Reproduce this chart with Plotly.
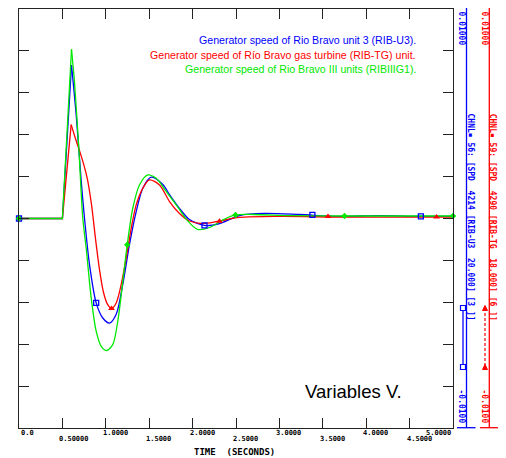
import plotly.graph_objects as go

# ---------------- data ----------------
blue_t = [0, 0.5, 0.605, 0.659, 0.717, 0.755, 0.812, 0.889, 0.965, 1.043, 1.120, 1.196,
          1.273, 1.350, 1.426, 1.523, 1.657, 1.734, 1.849, 1.964, 2.137, 2.31, 2.54,
          2.83, 3.23, 3.69, 4.15, 4.61, 5.0]
blue_v = [0, 0, 0.00732, 0.00494, 0.00176, 0.0, -0.00219, -0.00403, -0.00475, -0.00499,
          -0.00457, -0.00314, -0.00124, 0.00033, 0.00144, 0.00197, 0.00162, 0.00114,
          0.00048, -0.00005, -0.00033, -0.00024, 0.00014, 0.00024, 0.00019, 0.0001,
          0.00014, 0.0001, 0.0001]

red_t = [0, 0.5, 0.601, 0.651, 0.697, 0.743, 0.789, 0.835, 0.881, 0.927, 0.973, 1.02,
         1.066, 1.120, 1.177, 1.235, 1.293, 1.350, 1.426, 1.503, 1.619, 1.734, 1.849,
         1.964, 2.114, 2.287, 2.54, 3.0, 3.69, 4.38, 5.0]
red_v = [0, 0, 0.00448, 0.00381, 0.00324, 0.00262, 0.00186, 0.00067, -0.00095, -0.00243,
         -0.00352, -0.0041, -0.00429, -0.00403, -0.00316, -0.00189, -0.00046, 0.00065,
         0.00144, 0.00184, 0.00160, 0.00081, 0.00024, -0.00012, -0.00024, -0.00014,
         0.00005, 0.0001, 0.00007, 0.00007, 0.00007]

green_t = [0, 0.5, 0.605, 0.639, 0.689, 0.735, 0.774, 0.832, 0.889, 0.947, 1.012, 1.081,
           1.138, 1.196, 1.247, 1.311, 1.388, 1.484, 1.581, 1.696, 1.826, 1.941, 2.056,
           2.195, 2.356, 2.494, 2.713, 3.116, 3.75, 4.38, 5.0]
green_v = [0, 0, 0.00808, 0.00652, 0.00335, 0.0, -0.00141, -0.00380, -0.00538, -0.00610,
           -0.00630, -0.00601, -0.00490, -0.00300, -0.00125, 0.00049, 0.00160, 0.00208,
           0.00192, 0.00129, 0.00057, -0.0001, -0.00052, -0.00043, -0.00005, 0.00017,
           0.00019, 0.00014, 0.00012, 0.00012, 0.00012]

blue_mk_t = [0, 0.889, 2.137, 3.38, 4.63]
blue_mk_v = [0, -0.00403, -0.00033, 0.00017, 0.0001]
red_mk_t = [1.066, 2.31, 3.56, 4.81]
red_mk_v = [-0.00429, -0.00013, 0.00009, 0.00007]
green_mk_t = [0, 1.247, 2.494, 3.75, 5.0]
green_mk_v = [0, -0.00125, 0.00017, 0.00012, 0.00012]

x_tick_vals = [0, 0.5, 1.0, 1.5, 2.0, 2.5, 3.0, 3.5, 4.0, 4.5, 5.0]
x_tick_text = ["0.0", "0.50000", "1.0000", "1.5000", "2.0000", "2.5000",
               "3.0000", "3.5000", "4.0000", "4.5000", "5.0000"]
y_range = [-0.01, 0.01]

legend_texts = ["Generator speed of Rio Bravo unit 3 (RIB-U3).",
                "Generator speed of Río Bravo gas turbine (RIB-TG) unit.",
                "Generator speed of Rio Bravo III units (RIBIIIG1)."]
chan_texts = ["CHNL▪ 56: [SPD  4214 [RIB-U3  20.000] [3 ]]",
              "CHNL▪ 59: [SPD  4290 [RIB-TG  18.000] [6 ]]"]
top_label = "0.01000"
bot_label = "-0.0100"

BLUE, RED, GREEN = "#0000ff", "#ff0000", "#00e800"

# ---------------- layout geometry ----------------
# the page body has an 8px margin, so the figure is placed at (8, 8) on the page
OFF = 8
W, H = 506 - OFF, 458 - OFF
PAGE_L, PAGE_R, PAGE_T, PAGE_B = 19, 453, 9, 428
L, T = PAGE_L - OFF, PAGE_T - OFF
R, B = W - (PAGE_R - OFF), H - (PAGE_B - OFF)
PW, PH = PAGE_R - PAGE_L, PAGE_B - PAGE_T


def px(x):  # page x -> paper
    return (x - PAGE_L) / PW


def py(y):  # page y -> paper
    return (PAGE_B - y) / PH


fig = go.Figure()

for t, v, c in [(blue_t, blue_v, BLUE), (red_t, red_v, RED), (green_t, green_v, GREEN)]:
    fig.add_trace(go.Scatter(x=t[:3], y=v[:3], mode="lines",
                             line=dict(color=c, width=1.3), showlegend=False,
                             hoverinfo="skip"))
    fig.add_trace(go.Scatter(x=t[2:], y=v[2:], mode="lines",
                             line=dict(color=c, width=1.3, shape="spline", smoothing=0.8),
                             showlegend=False, hoverinfo="skip"))

fig.add_trace(go.Scatter(x=blue_mk_t, y=blue_mk_v, mode="markers", cliponaxis=False,
                         marker=dict(symbol="square-open", size=5, color=BLUE,
                                     line=dict(width=1.3, color=BLUE)), showlegend=False))
fig.add_trace(go.Scatter(x=red_mk_t, y=red_mk_v, mode="markers", cliponaxis=False,
                         marker=dict(symbol="triangle-up", size=6, color=RED),
                         showlegend=False))
fig.add_trace(go.Scatter(x=green_mk_t, y=green_mk_v, mode="markers", cliponaxis=False,
                         marker=dict(symbol="diamond", size=5, color=GREEN),
                         showlegend=False))

axis_common = dict(showgrid=False, zeroline=False, showline=True, linecolor="#222",
                   linewidth=1.3, mirror="ticks", ticks="inside", ticklen=10,
                   tickwidth=1.3, tickcolor="#222", showticklabels=False)

fig.update_layout(
    width=W, height=H, autosize=False,
    margin=dict(l=L, r=R, t=T, b=B, pad=0),
    plot_bgcolor="white", paper_bgcolor="white",
    xaxis=dict(range=[0, 5], tickvals=x_tick_vals, **axis_common),
    yaxis=dict(range=y_range, dtick=0.002, tick0=-0.01, **axis_common),
)

ann = []
mono = "DejaVu Sans Mono"
# x tick labels in two staggered rows
for i, (v, s) in enumerate(zip(x_tick_vals, x_tick_text)):
    row_y = 432.7 if i % 2 == 0 else 439.3
    if i == 0:
        xa, xs = "left", 0
    elif i == len(x_tick_vals) - 1:
        xa, xs = "right", 0
    else:
        xa, xs = "left", -5
    ann.append(dict(x=v, xref="x", y=py(row_y), yref="paper", text=s, showarrow=False,
                    xanchor=xa, yanchor="middle", xshift=xs,
                    font=dict(family=mono, size=7, color="black", weight="bold")))
ann.append(dict(x=px(234), xref="paper", y=py(452), yref="paper", text="TIME  (SECONDS)",
                showarrow=False, xanchor="center", yanchor="middle",
                font=dict(family=mono, size=9, color="black", weight="bold")))

# legend texts
for txt, c, yy in zip(legend_texts, [BLUE, RED, GREEN], [40, 55, 69]):
    ann.append(dict(x=px(418), xref="paper", y=py(yy), yref="paper", text=txt,
                    showarrow=False, xanchor="right", yanchor="middle",
                    font=dict(family="Liberation Sans, Arial", size=10.6, color=c)))

ann.append(dict(x=px(353), xref="paper", y=py(391), yref="paper", text="Variables V.",
                showarrow=False, xanchor="center", yanchor="middle",
                font=dict(family="Liberation Sans, Arial", size=18.5, color="black")))

# right-side channel axes labels
for c, xl, xc, chan in [(BLUE, 461.5, 470.5, chan_texts[0]),
                        (RED, 484.5, 493.3, chan_texts[1]),
                        (GREEN, 505.8, None, None)]:
    for txt, yy in [(top_label, 28), (bot_label, 406)]:
        ann.append(dict(x=px(xl), xref="paper", y=py(yy), yref="paper", text=txt,
                        showarrow=False, textangle=90, xanchor="center", yanchor="middle",
                        font=dict(family=mono, size=8, color=c, weight="bold")))
    if chan:
        ann.append(dict(x=px(xc), xref="paper", y=py(217), yref="paper", text=chan,
                        showarrow=False, textangle=90, xanchor="center", yanchor="middle",
                        font=dict(family=mono, size=8, color=c, weight="bold")))
fig.update_layout(annotations=ann)

shapes = []
for c, xline, x0, x1 in [(BLUE, 466.5, 457, 475.5), (RED, 489.3, 480, 498.5),
                         (GREEN, 513, 504, 522)]:
    shapes.append(dict(type="line", xref="paper", yref="paper", x0=px(xline), x1=px(xline),
                       y0=py(7), y1=py(427.7), line=dict(color=c, width=1.3)))
    for yy in (7, 427.7):
        shapes.append(dict(type="line", xref="paper", yref="paper", x0=px(x0), x1=px(x1),
                           y0=py(yy), y1=py(yy), line=dict(color=c, width=1.3)))
# legend sample keys
shapes.append(dict(type="line", xref="paper", yref="paper", x0=px(463), x1=px(463),
                   y0=py(308), y1=py(367), line=dict(color=BLUE, width=1.3)))
for yy in (308, 367):
    shapes.append(dict(type="rect", xref="paper", yref="paper", x0=px(460.5), x1=px(465.5),
                       y0=py(yy - 2.5), y1=py(yy + 2.5), line=dict(color=BLUE, width=1.2),
                       fillcolor="white"))
shapes.append(dict(type="line", xref="paper", yref="paper", x0=px(485), x1=px(485),
                   y0=py(308), y1=py(367), line=dict(color=RED, width=1.2, dash="3px,2px")))
for yy in (308, 367):
    shapes.append(dict(type="path", xref="paper", yref="paper",
                       path=f"M {px(482.5)} {py(yy + 2.5)} L {px(487.5)} {py(yy + 2.5)} "
                            f"L {px(485)} {py(yy - 2.5)} Z",
                       line=dict(color=RED, width=1), fillcolor=RED))
fig.update_layout(shapes=shapes)

fig.write_html("out.html")
